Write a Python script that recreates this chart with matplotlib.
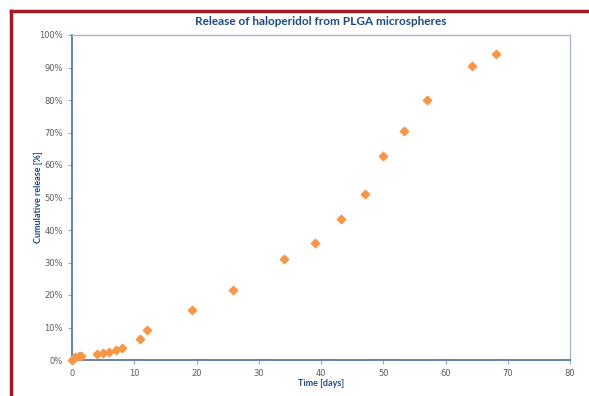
import matplotlib
matplotlib.use("Agg")
from matplotlib import pyplot as plt
from matplotlib.lines import Line2D
from matplotlib.ticker import PercentFormatter

# release data
days = [0, 0.25, 0.5, 1.2, 1.5, 4, 5, 6, 7, 8, 11, 12, 19.2,
        25.8, 34, 39, 43.2, 47, 49.9, 53.3, 57, 64.3, 68.1]
release = [0, 0.6, 0.9, 1.1, 1.3, 1.75, 2.1, 2.6, 3.2, 3.8, 6.6, 9.1, 15.3,
           21.4, 31.0, 35.9, 43.3, 51.0, 62.7, 70.4, 79.9, 90.4, 94.2]

x_ticks = [0, 10, 20, 30, 40, 50, 60, 70, 80]
y_ticks = [0, 10, 20, 30, 40, 50, 60, 70, 80, 90, 100]

navy = "#1F497D"
grey = "#595959"

fig = plt.figure(figsize=(5.89, 3.96), dpi=100)
ax = fig.add_axes([72/589, 1 - 360/396, (570-72)/589, (360-35)/396])

ax.scatter(days, release, marker="D", s=18, color="#F79646", zorder=3,
           clip_on=False)

ax.set_xlim(0, 80)
ax.set_ylim(0, 100)
ax.set_xticks(x_ticks)
ax.set_yticks(y_ticks)
ax.yaxis.set_major_formatter(PercentFormatter(decimals=0))
ax.tick_params(labelsize=6, colors=grey, length=3, width=0.8)
ax.tick_params(axis="both", color="#8EA9C8")

for side in ["left", "bottom"]:
    ax.spines[side].set_color("#4A6F9A")
    ax.spines[side].set_linewidth(1.2)
for side in ["top", "right"]:
    ax.spines[side].set_color("#A6B8CE")
    ax.spines[side].set_linewidth(1.0)

ax.set_title("Release of haloperidol from PLGA microspheres", fontsize=8.5,
             fontweight="bold", color=navy, family="Lato", pad=7)
ax.set_xlabel("Time [days]", fontsize=6.5, fontweight="bold", color=navy,
              family="Lato")
ax.set_ylabel("Cumulative release [%]", fontsize=6.5, fontweight="bold",
              color=navy, family="Lato")
ax.xaxis.set_label_coords(0.5, -0.058)
ax.yaxis.set_label_coords(-0.058, 0.5)

# dark red frame on the top and left
red = "#A11B22"
fig.add_artist(Line2D([11/589, 11/589], [0, 1 - 11/396], color=red, lw=2.5))
fig.add_artist(Line2D([11/589, 1], [1 - 11/396, 1 - 11/396], color=red, lw=2.5))

fig.savefig("out.png", dpi=100)
